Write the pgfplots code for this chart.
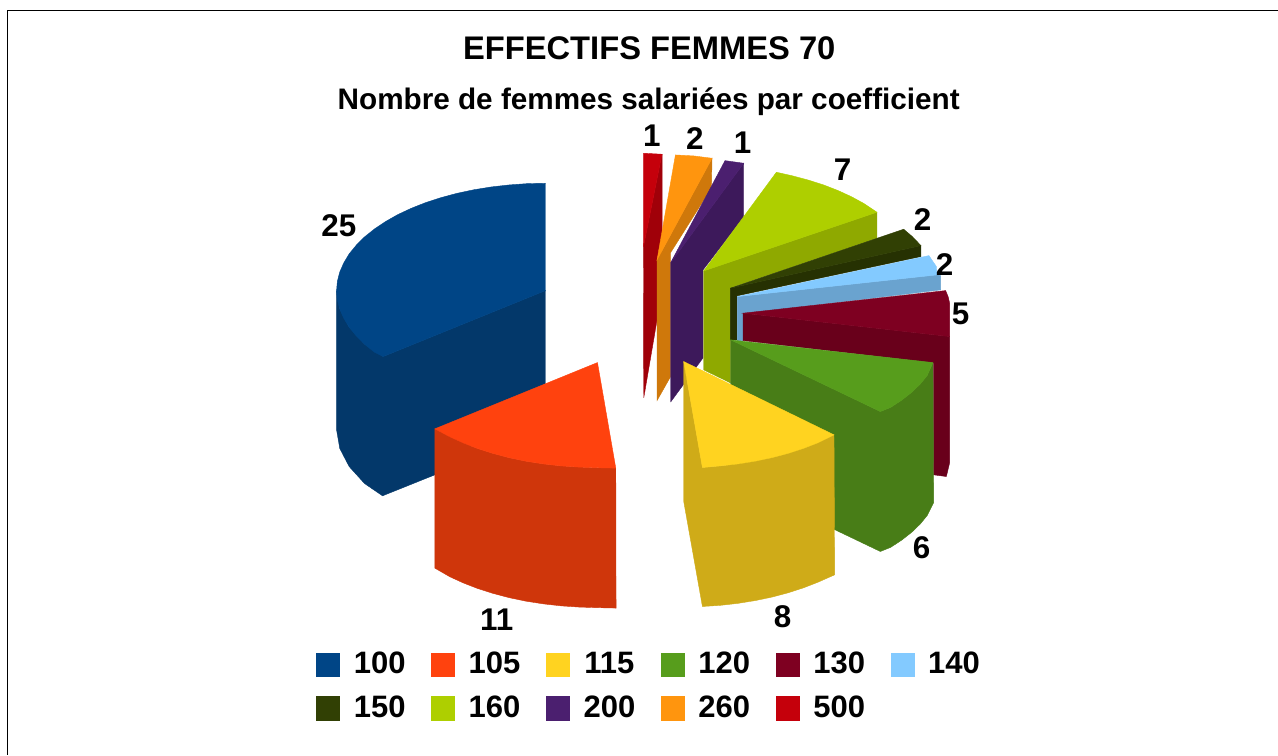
\documentclass[border=0pt]{standalone}
\usepackage{pgfplots}
\pgfplotsset{compat=1.18}
\usepackage{fontspec}
\setmainfont{Liberation Sans}
\definecolor{c100}{HTML}{004586}\definecolor{d100}{HTML}{03386A}
\definecolor{c105}{HTML}{FF420E}\definecolor{d105}{HTML}{CF360B}
\definecolor{c115}{HTML}{FFD320}\definecolor{d115}{HTML}{CFAB18}
\definecolor{c120}{HTML}{579D1C}\definecolor{d120}{HTML}{487D17}
\definecolor{c130}{HTML}{7E0021}\definecolor{d130}{HTML}{69001B}
\definecolor{c140}{HTML}{83CAFF}\definecolor{d140}{HTML}{6AA3CF}
\definecolor{c150}{HTML}{314004}\definecolor{d150}{HTML}{263102}
\definecolor{c160}{HTML}{AECF00}\definecolor{d160}{HTML}{8FA900}
\definecolor{c200}{HTML}{4B1F6F}\definecolor{d200}{HTML}{3D195B}
\definecolor{c260}{HTML}{FF950E}\definecolor{d260}{HTML}{CF780B}
\definecolor{c500}{HTML}{C5000B}\definecolor{d500}{HTML}{A00009}
\pgfplotsset{
  wedge/.style={fill=#1,draw=#1,line width=0.2pt,forget plot},
  leg/.style={only marks,mark=square*,mark size=5.8pt,mark options={fill=#1,draw=#1}}
}
\begin{document}
\begin{tikzpicture}
\begin{axis}[
  scale only axis,width=639pt,height=377.5pt,
  xmin=0,xmax=1278,ymin=0,ymax=755,y dir=reverse,
  axis lines=none,clip=false,
  legend columns=6,
  legend style={at={(rel axis cs:0.509,0.0905)},anchor=center,draw=none,fill=none,
    font=\fontsize{15.5}{18}\selectfont\bfseries,
    /tikz/every odd column/.append style={column sep=5pt},
    /tikz/every even column/.append style={column sep=11pt},
    row sep=5.6pt},
]
% page and frame
\addplot[fill=white,draw=none,forget plot] coordinates {(0,0)(1278,0)(1278,755)(0,755)} -- cycle;
\addplot[draw=black,line width=0.5pt,forget plot] coordinates {(1278,10.5)(7.5,10.5)(7.5,755)};
% 100
\addplot[wedge=d100] coordinates {(336.7,290.7)(336.7,430)(339.9,448.6)(349.3,466.7)(364.7,483.7)(382.7,496)(435,475)(545.7,383.3)(545.7,290.7)(383.3,356.7)(364.7,344.4)(349.3,327.4)(339.9,309.3)} -- cycle;
\addplot[wedge=c100] coordinates {(545.7,183.3)(527.6,183.7)(509.4,185)(491.6,187)(474.2,189.8)(457.2,193.4)(441.2,197.7)(425.8,202.7)(411.4,208.4)(397.9,214.7)(385.6,221.7)(374.6,229.1)(364.7,237)(356.4,245.3)(349.3,254)(343.9,263)(339.9,272.1)(337.5,281.4)(336.7,290.7)(337.5,300)(339.9,309.3)(343.9,318.4)(349.3,327.4)(356.4,336)(364.7,344.4)(374.6,352.3)(383.3,356.7)(545.7,290.7)} -- cycle;
% 105
\addplot[wedge=d105] coordinates {(435,429)(449.9,436.9)(463.4,443.1)(477.8,448.7)(493.2,453.6)(509.4,457.9)(526.2,461.4)(543.6,464.1)(561.4,466.1)(579.5,467.3)(597.7,467.9)(616,468.3)(616.3,608.3)(597.7,607.9)(579.5,607.3)(561.4,606.1)(543.6,604.1)(526.2,601.4)(509.4,597.9)(493.2,593.6)(477.8,588.7)(463.4,583.1)(449.9,576.9)(435,568.3)} -- cycle;
\addplot[wedge=c105] coordinates {(597.7,362.7)(616,468.3)(597.7,467.9)(579.5,467.3)(561.4,466.1)(543.6,464.1)(526.2,461.4)(509.4,457.9)(493.2,453.6)(477.8,448.7)(463.4,443.1)(449.9,436.9)(435,429)} -- cycle;
% 500
\addplot[wedge=d500] coordinates {(662.3,154.3)(662.3,230)(657.3,320)(644,398)(643.7,247)} -- cycle;
\addplot[wedge=c500] coordinates {(643.7,153.3)(662.3,154.3)(643.7,247)} -- cycle;
% 260
\addplot[wedge=d260] coordinates {(712.3,158.3)(711.7,188)(670.7,253)(670.7,377)(657.3,400.7)(657.3,260)} -- cycle;
\addplot[wedge=c260] coordinates {(675.7,155)(694,156)(712.3,158.3)(657.3,260)} -- cycle;
% 200
\addplot[wedge=d200] coordinates {(744,163.3)(744,217)(703.3,270)(703.3,358)(671,402)(671,262.7)} -- cycle;
\addplot[wedge=c200] coordinates {(725.3,160.7)(744,163.3)(671,262.7)} -- cycle;
% 160
\addplot[wedge=d160] coordinates {(877.3,212.3)(877.3,238.3)(730.7,288)(730.7,383)(704,370)(704,271)} -- cycle;
\addplot[wedge=c160] coordinates {(776.7,172.3)(792.3,175.8)(808.5,180.1)(823.9,185)(838.3,190.6)(851.8,196.8)(864.1,203.5)(877.3,212.3)(704,271)} -- cycle;
% 150
\addplot[wedge=d150] coordinates {(921.3,245.7)(921.3,256.7)(737.3,296)(737.3,340)(730.7,340)(730.7,288.3)} -- cycle;
\addplot[wedge=c150] coordinates {(904,229.3)(912.7,236.7)(921.3,245.7)(730.7,288.3)} -- cycle;
% 140
\addplot[wedge=d140] coordinates {(937.3,275)(941,275.7)(941,290)(743.3,314)(743.3,340.7)(737.7,340.7)(737.7,296.7)} -- cycle;
\addplot[wedge=c140] coordinates {(929.3,255.7)(936.7,266.7)(937.3,275)(737.7,296.7)} -- cycle;
% 130
\addplot[wedge=d130] coordinates {(950,336.7)(950,463)(946.7,476.7)(934,475)(934,363)(743.3,340.7)(743.3,313.3)} -- cycle;
\addplot[wedge=c130] coordinates {(946,290.7)(948.5,296.8)(950,303.3)(950,336.7)(743.3,313.3)} -- cycle;
% 120
\addplot[wedge=d120] coordinates {(731,340)(880.7,411.7)(891.1,407.5)(902.2,400.2)(912,392.5)(920.4,384.4)(927.4,375.9)(933.3,362.7)(934,502.7)(927.4,515.9)(920.4,524.4)(912,532.5)(902.2,540.2)(891.1,547.5)(880.7,551.7)(731,480)} -- cycle;
\addplot[wedge=c120] coordinates {(731,340)(933.3,362.7)(927.4,375.9)(920.4,384.4)(912,392.5)(902.2,400.2)(891.1,407.5)(880.7,411.7)} -- cycle;
% 115
\addplot[wedge=d115] coordinates {(684,361.7)(702.7,467.7)(720.3,466.1)(738.1,464.1)(755.5,461.3)(772.3,457.8)(788.5,453.5)(803.9,448.5)(818.3,442.9)(834.3,435)(835,575)(818.3,582.4)(803.9,588)(788.5,593)(772.3,597.3)(755.5,600.8)(738.1,603.6)(720.3,605.6)(702.7,606.7)(684,501.7)} -- cycle;
\addplot[wedge=c115] coordinates {(684,361.7)(834.3,435)(818.3,442.9)(803.9,448.5)(788.5,453.5)(772.3,457.8)(755.5,461.3)(738.1,464.1)(720.3,466.1)(702.7,467.7)} -- cycle;
% data labels: x y value
\addplot[only marks,mark=none,forget plot,point meta=explicit symbolic,
  nodes near coords,
  every node near coord/.style={anchor=center,inner sep=0pt,font=\fontsize{15.7}{18}\selectfont\bfseries}]
  table[meta=v] {
x y v
339 226 25
497 620 11
783 617 8
922 548 6
961 314 5
945 265 2
923 220 2
843 170 7
743 143 1
695 139 2
652 136 1
};
% legend
\addlegendimage{leg=c100}\addlegendentry{100}
\addlegendimage{leg=c105}\addlegendentry{105}
\addlegendimage{leg=c115}\addlegendentry{115}
\addlegendimage{leg=c120}\addlegendentry{120}
\addlegendimage{leg=c130}\addlegendentry{130}
\addlegendimage{leg=c140}\addlegendentry{140}
\addlegendimage{leg=c150}\addlegendentry{150}
\addlegendimage{leg=c160}\addlegendentry{160}
\addlegendimage{leg=c200}\addlegendentry{200}
\addlegendimage{leg=c260}\addlegendentry{260}
\addlegendimage{leg=c500}\addlegendentry{500}
% titles
\node[anchor=center,inner sep=0pt,font=\fontsize{16.35}{20}\selectfont\bfseries] at (axis cs:649.5,48) {EFFECTIFS FEMMES 70};
\node[anchor=center,inner sep=0pt,font=\fontsize{14.85}{18}\selectfont\bfseries] at (axis cs:649,102) {Nombre de femmes salariées par coefficient};
\end{axis}
\end{tikzpicture}
\end{document}
